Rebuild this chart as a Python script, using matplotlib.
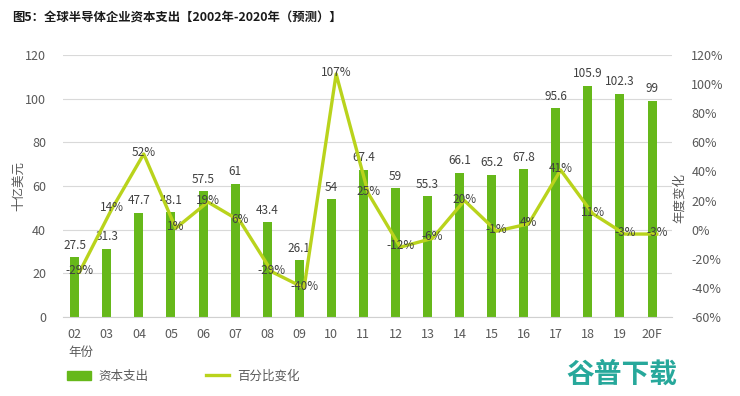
import matplotlib
matplotlib.use("Agg")
from matplotlib import pyplot as plt
from matplotlib.lines import Line2D
from matplotlib.patches import Patch
import numpy as np

plt.rcParams['font.family'] = ['Noto Sans CJK SC', 'DejaVu Sans']

years = ['02', '03', '04', '05', '06', '07', '08', '09', '10', '11',
         '12', '13', '14', '15', '16', '17', '18', '19', '20F']
capex = [27.5, 31.3, 47.7, 48.1, 57.5, 61, 43.4, 26.1, 54, 67.4,
         59, 55.3, 66.1, 65.2, 67.8, 95.6, 105.9, 102.3, 99]
pct = [-29, 14, 52, 1, 19, 6, -29, -40, 107, 25,
       -12, -6, 20, -1, 4, 41, 11, -3, -3]

bar_c = '#66B81A'
line_c = '#B9D31C'
txt_c = '#404040'
tick_c = '#595959'

fig = plt.figure(figsize=(7.4, 3.96), dpi=100)
ax = fig.add_axes([0.085, 0.1995, 0.823, 0.6615])
ax2 = ax.twinx()

x = np.arange(len(years))
ax.bar(x, capex, width=0.28, color=bar_c, zorder=2)
for i, v in enumerate(capex):
    ax.text(x[i], v + 2.5, f'{v:g}', ha='center', va='bottom', fontsize=8.5, color=txt_c)

ax.set_ylim(0, 120)
ax.set_yticks(range(0, 121, 20))
ax.set_xlim(-0.37, 18.62)
ax.set_xticks(x)
ax.set_xticklabels(years)
ax.grid(axis='y', color='#D9D9D9', lw=0.8, zorder=0)
ax.set_axisbelow(True)
for s in ['top', 'right', 'left']:
    ax.spines[s].set_visible(False)
ax.spines['bottom'].set_color('#D0D0D0')
ax.tick_params(axis='both', length=0, labelsize=9, colors=tick_c, pad=8)
ax.tick_params(axis='y', pad=12)

xl = x + 0.15
ax2.plot(xl, pct, color=line_c, lw=2.4, zorder=3)
for i, v in enumerate(pct):
    ax2.text(xl[i], v + 1, f'{v}%', ha='center', va='center', fontsize=8.5, color=txt_c, zorder=4)
ax2.set_ylim(-60, 120)
ax2.set_yticks(range(-60, 121, 20))
ax2.set_yticklabels([f'{t}%' for t in range(-60, 121, 20)])
for s in ['top', 'right', 'left', 'bottom']:
    ax2.spines[s].set_visible(False)
ax2.tick_params(axis='y', length=0, labelsize=9, colors=tick_c, pad=14)

fig.text(0.016, 0.955, '图5：全球半导体企业资本支出【2002年-2020年（预测）】',
         fontsize=8.9, fontweight='bold', color='#1a1a1a', va='center')
fig.text(0.025, 0.53, '十亿美元', rotation=90, fontsize=9, color=tick_c, ha='center', va='center')
fig.text(0.918, 0.50, '年度变化', rotation=90, fontsize=9, color=tick_c, ha='center', va='center')
fig.text(0.092, 0.11, '年份', fontsize=9, color=tick_c, va='center')

handles = [Patch(color=bar_c), Line2D([], [], color=line_c, lw=2.4)]
fig.legend(handles, ['资本支出', '百分比变化'], loc='center left', bbox_to_anchor=(0.075, 0.05),
           ncol=2, frameon=False, fontsize=9, handlelength=1.9, handleheight=0.7,
           handletextpad=0.6, columnspacing=4.6, labelcolor=tick_c)

fig.text(0.84, 0.055, '谷普下载', fontsize=20, fontweight='bold', color='#27A89B',
         ha='center', va='center')

fig.savefig('out.png', dpi=100)
